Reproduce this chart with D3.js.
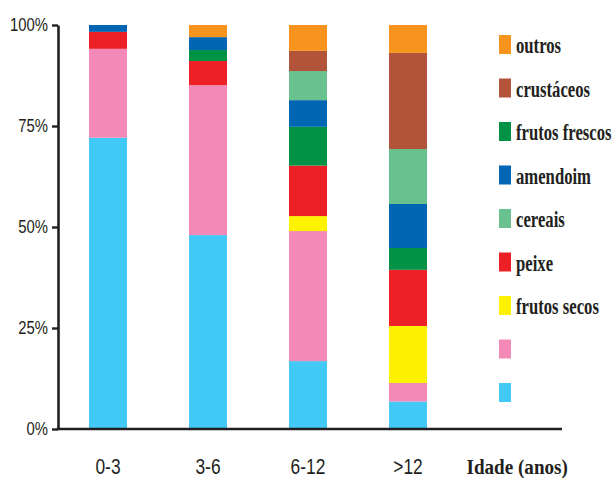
<!DOCTYPE html>
<html>
<head>
<meta charset="utf-8">
<script src="https://cdn.jsdelivr.net/npm/d3@7/dist/d3.min.js"></script>
<style>
  html, body { margin: 0; padding: 0; background: #ffffff; }
  svg { display: block; }
</style>
</head>
<body>
<svg id="chart" width="615" height="478"></svg>
<script>
// Age groups (x categories)
const categories = ["0-3", "3-6", "6-12", ">12"];

// Series in stacking order, bottom to top
const seriesKeys = ["base1", "base2", "frutos secos", "peixe", "frutos frescos", "amendoim", "cereais", "crustáceos", "outros"];
const seriesLabels = ["", "", "frutos secos", "peixe", "frutos frescos", "amendoim", "cereais", "crustáceos", "outros"];
const seriesColors = ["#42c9f5", "#f289b6", "#fff200", "#ed1f27", "#009245", "#0066b3", "#68c18f", "#b1543a", "#f7941d"];

// Percentage shares per age group, one array per series
const base1Values         = [72.1, 48.0, 16.8, 6.8];
const base2Values         = [22.0, 37.1, 32.2, 4.6];
const frutosSecosValues   = [0, 0, 3.7, 14.1];
const peixeValues         = [4.2, 6.0, 12.5, 13.9];
const frutosFrescosValues = [0, 2.7, 9.6, 5.4];
const amendoimValues      = [1.7, 3.2, 6.6, 10.9];
const cereaisValues       = [0, 0, 7.2, 13.6];
const crustaceosValues    = [0, 0, 5.0, 23.8];
const outrosValues        = [0, 3.0, 6.4, 6.9];

// Legend order, top to bottom
const legendOrder = ["outros", "crustáceos", "frutos frescos", "amendoim", "cereais", "peixe", "frutos secos", "base2", "base1"];

// Axis tick values
const yTicks = [0, 25, 50, 75, 100];
const xTitle = "Idade (anos)";

const valueArrays = [base1Values, base2Values, frutosSecosValues, peixeValues, frutosFrescosValues,
                     amendoimValues, cereaisValues, crustaceosValues, outrosValues];

const rows = categories.map((c, i) => {
  const r = { cat: c };
  seriesKeys.forEach((k, j) => { r[k] = valueArrays[j][i]; });
  return r;
});

const colorOf = d3.scaleOrdinal().domain(seriesKeys).range(seriesColors);
const labelOf = new Map(seriesKeys.map((k, i) => [k, seriesLabels[i]]));

const svg = d3.select("#chart");
const ink = "#231f20";

const plotLeft = 58, plotRight = 458, plotTop = 25, plotBottom = 429, axisEnd = 562;
const labelBaseline = 473.5;

const x = d3.scaleBand().domain(categories).range([plotLeft, plotRight])
  .paddingInner(0.62).paddingOuter(0.31);
const y = d3.scaleLinear().domain([0, 100]).range([plotBottom, plotTop]);

const stacked = d3.stack().keys(seriesKeys)(rows);

// Stacked bars
svg.append("g").selectAll("g").data(stacked).join("g")
  .attr("fill", d => colorOf(d.key))
  .selectAll("rect").data(d => d.filter(p => p[1] - p[0] > 0)).join("rect")
  .attr("x", d => x(d.data.cat))
  .attr("width", x.bandwidth())
  .attr("y", d => y(d[1]))
  .attr("height", d => y(d[0]) - y(d[1]));

// Y axis
const ySx = 0.84;
const yAxis = svg.append("g")
  .attr("transform", `translate(${plotLeft},0)`)
  .call(d3.axisLeft(y).tickValues(yTicks).tickFormat(d => d + "%").tickSize(6).tickSizeOuter(0).tickPadding(4));
yAxis.select(".domain").attr("stroke", ink).attr("stroke-width", 2.6);
yAxis.selectAll(".tick line").attr("stroke", ink).attr("stroke-width", 2.4);
yAxis.selectAll(".tick text")
  .attr("fill", ink)
  .attr("font-family", "'Liberation Sans', Arial, sans-serif")
  .attr("font-size", 17.7)
  .attr("x", -10 / ySx)
  .attr("transform", `scale(${ySx},1)`);

// X baseline
svg.append("line")
  .attr("x1", plotLeft - 1.3).attr("x2", axisEnd)
  .attr("y1", y(0)).attr("y2", y(0))
  .attr("stroke", ink).attr("stroke-width", 2.6);

// X category labels
const xSx = 0.79;
svg.append("g").selectAll("text").data(categories).join("text")
  .attr("transform", d => `translate(${x(d) + x.bandwidth() / 2},${labelBaseline}) scale(${xSx},1)`)
  .attr("text-anchor", "middle")
  .attr("font-family", "'Liberation Sans', Arial, sans-serif")
  .attr("font-size", 22)
  .attr("fill", ink)
  .text(d => d);

// X axis title
svg.append("text")
  .attr("transform", `translate(466.5,${labelBaseline}) scale(0.91,1)`)
  .attr("font-family", "'Liberation Serif', 'Times New Roman', serif")
  .attr("font-weight", "bold")
  .attr("font-size", 21)
  .attr("fill", ink)
  .text(xTitle);

// Legend
const legend = svg.append("g").attr("transform", "translate(499,35)");
const item = legend.selectAll("g").data(legendOrder).join("g")
  .attr("transform", (d, i) => `translate(0,${i * 43.5})`);
item.append("rect")
  .attr("width", 12).attr("height", 19)
  .attr("fill", d => colorOf(d));
item.append("text")
  .attr("transform", "translate(17,18) scale(0.71,1)")
  .attr("font-family", "'Liberation Serif', 'Times New Roman', serif")
  .attr("font-weight", "bold")
  .attr("font-size", 23.5)
  .attr("fill", ink)
  .text(d => labelOf.get(d));
</script>
</body>
</html>
